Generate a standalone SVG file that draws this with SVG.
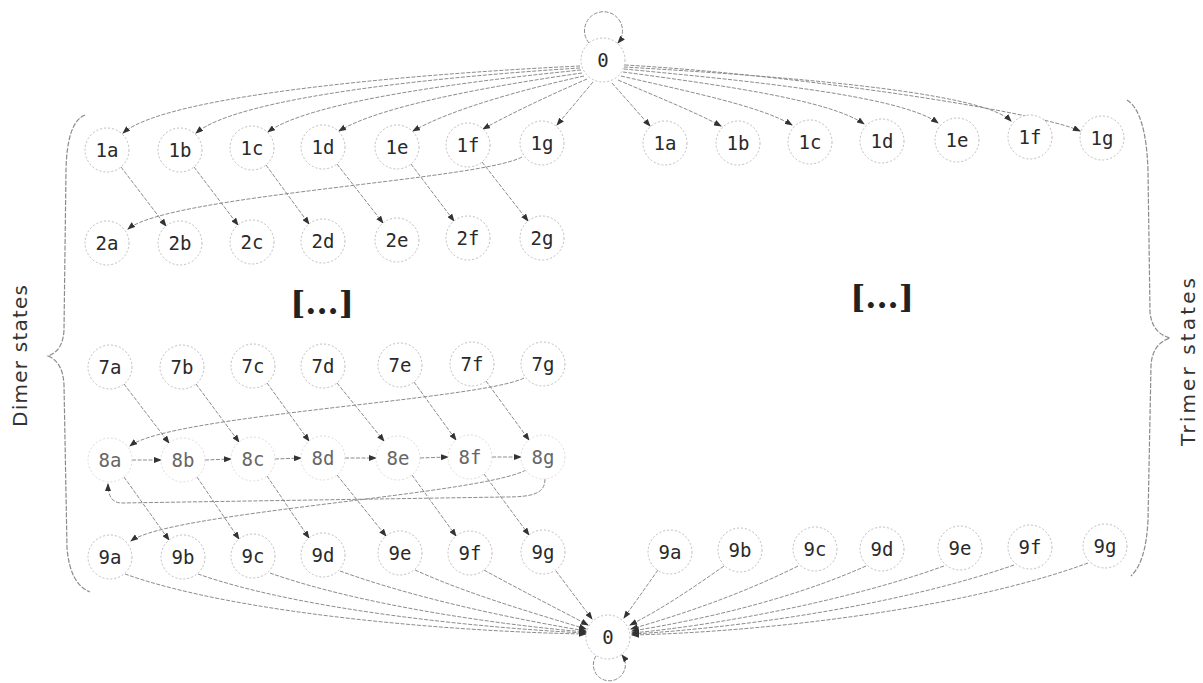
<svg xmlns="http://www.w3.org/2000/svg" width="1203" height="683" viewBox="0 0 1203 683">
<defs>
<marker id="ah" markerWidth="8" markerHeight="6" refX="7" refY="3" orient="auto" markerUnits="userSpaceOnUse">
<path d="M0,0 L8,3 L0,6 z" fill="#333"/>
</marker>
<style>
.e{fill:none;stroke:#8c8c8c;stroke-width:1;stroke-dasharray:4 1.5;marker-end:url(#ah)}
.b{fill:none;stroke:#8c8c8c;stroke-width:1.2;stroke-dasharray:5 1.5}
.n circle{fill:#fff;stroke:#bdbdbd;stroke-width:1;stroke-dasharray:2 2}
.n text{font-family:"DejaVu Sans Mono",monospace;font-size:19px;fill:#2a2a2a;text-anchor:middle;dominant-baseline:central}
.f circle{stroke:#dcdcdc}
.f text{fill:#666}
.dots{font-family:"DejaVu Serif",serif;font-weight:bold;font-size:32px;fill:#222;text-anchor:middle}
.lab{font-family:"DejaVu Sans",sans-serif;font-size:20px;fill:#333;text-anchor:middle;dominant-baseline:central}
</style>
</defs>
<rect width="1203" height="683" fill="#fff"/>

<g id="braces">
<path class="b" d="M85 115 Q67 122 66 170 L64 330 Q63 351 48 356 Q63 362 64 385 L67 548 Q70 584 90 592"/>
<path class="b" d="M1127 100 Q1146 112 1148 170 L1150 312 Q1152 333 1170 338 Q1152 344 1151 366 L1148 520 Q1146 562 1131 576"/>
</g>

<g id="connectors">
<path class="e" d="M589 43 A19 19 0 1 1 618 43"/>
<path class="e" d="M580 66 C450 72 170 92 123 133"/>
<path class="e" d="M580 68 C450 76 240 96 196 133"/>
<path class="e" d="M581 70 C470 81 310 101 268 132"/>
<path class="e" d="M582 73 C490 86 380 106 339 131"/>
<path class="e" d="M584 76 C520 90 450 110 413 131"/>
<path class="e" d="M587 79 C550 95 510 114 483 129"/>
<path class="e" d="M593 82 L557 125"/>
<path class="e" d="M612 83 L650 126"/>
<path class="e" d="M618 80 C660 98 695 112 721 126"/>
<path class="e" d="M621 76 C690 92 760 106 792 125"/>
<path class="e" d="M623 72 C720 85 830 100 864 124"/>
<path class="e" d="M624 69 C740 80 900 95 938 123"/>
<path class="e" d="M624 67 C760 75 980 90 1011 121"/>
<path class="e" d="M625 65 C800 75 1040 112 1080 131"/>
<path class="e" d="M121 167 L166 226"/>
<path class="e" d="M194 167 L238 225"/>
<path class="e" d="M266 165 L309 224"/>
<path class="e" d="M337 164 L383 223"/>
<path class="e" d="M411 164 L454 221"/>
<path class="e" d="M482 162 L528 221"/>
<path class="e" d="M522 157 C480 180 170 195 128 229"/>
<path class="e" d="M124 384 L169 443"/>
<path class="e" d="M196 384 L239 442"/>
<path class="e" d="M267 383 L309 441"/>
<path class="e" d="M337 383 L384 441"/>
<path class="e" d="M414 382 L456 440"/>
<path class="e" d="M486 381 L529 440"/>
<path class="e" d="M524 378 C480 400 170 415 130 446"/>
<path class="e" d="M132 460 L161 460"/>
<path class="e" d="M205 460 L231 459"/>
<path class="e" d="M275 459 L301 458"/>
<path class="e" d="M345 458 L376 458"/>
<path class="e" d="M420 458 L448 457"/>
<path class="e" d="M492 457 L521 457"/>
<path class="e" d="M545 479 C545 494 532 497 505 497 L122 503 Q108 503 108 484"/>
<path class="e" d="M124 477 L169 540"/>
<path class="e" d="M197 477 L239 539"/>
<path class="e" d="M267 476 L309 538"/>
<path class="e" d="M337 475 L386 536"/>
<path class="e" d="M412 475 L456 536"/>
<path class="e" d="M484 474 L529 535"/>
<path class="e" d="M526 470 C480 495 170 512 131 541"/>
<path class="e" d="M556 571 L592 619"/>
<path class="e" d="M484 570 C520 590 560 610 588 625"/>
<path class="e" d="M415 570 C470 595 540 615 586 629"/>
<path class="e" d="M340 571 C420 600 520 620 586 631"/>
<path class="e" d="M270 573 C360 605 500 625 586 632"/>
<path class="e" d="M198 574 C300 610 480 628 586 633"/>
<path class="e" d="M125 574 C240 615 460 632 586 634"/>
<path class="e" d="M658 570 L624 618"/>
<path class="e" d="M724 566 C690 590 660 610 630 625"/>
<path class="e" d="M798 566 C740 595 680 615 631 629"/>
<path class="e" d="M866 566 C790 600 700 620 632 631"/>
<path class="e" d="M944 566 C850 600 720 625 632 633"/>
<path class="e" d="M1014 565 C900 605 740 628 632 634"/>
<path class="e" d="M1088 563 C960 610 760 632 632 635"/>
<path class="e" d="M596 656 A16 16 0 1 0 622 655"/>
</g>

<g id="n0top" class="n"><circle cx="603" cy="60" r="22"/><text x="603" y="60">0</text></g>
<g id="n0bot" class="n"><circle cx="608" cy="637" r="22"/><text x="608" y="637">0</text></g>

<g id="d1a" class="n"><circle cx="107" cy="150" r="22"/><text x="107" y="150">1a</text></g>
<g id="d1b" class="n"><circle cx="180" cy="150" r="22"/><text x="180" y="150">1b</text></g>
<g id="d1c" class="n"><circle cx="252" cy="148" r="22"/><text x="252" y="148">1c</text></g>
<g id="d1d" class="n"><circle cx="323" cy="147" r="22"/><text x="323" y="147">1d</text></g>
<g id="d1e" class="n"><circle cx="397" cy="147" r="22"/><text x="397" y="147">1e</text></g>
<g id="d1f" class="n"><circle cx="468" cy="145" r="22"/><text x="468" y="145">1f</text></g>
<g id="d1g" class="n"><circle cx="542" cy="143" r="22"/><text x="542" y="143">1g</text></g>

<g id="d2a" class="n"><circle cx="107" cy="243" r="22"/><text x="107" y="243">2a</text></g>
<g id="d2b" class="n"><circle cx="180" cy="243" r="22"/><text x="180" y="243">2b</text></g>
<g id="d2c" class="n"><circle cx="252" cy="242" r="22"/><text x="252" y="242">2c</text></g>
<g id="d2d" class="n"><circle cx="323" cy="241" r="22"/><text x="323" y="241">2d</text></g>
<g id="d2e" class="n"><circle cx="397" cy="240" r="22"/><text x="397" y="240">2e</text></g>
<g id="d2f" class="n"><circle cx="468" cy="238" r="22"/><text x="468" y="238">2f</text></g>
<g id="d2g" class="n"><circle cx="542" cy="238" r="22"/><text x="542" y="238">2g</text></g>

<g id="d7a" class="n"><circle cx="110" cy="367" r="22"/><text x="110" y="367">7a</text></g>
<g id="d7b" class="n"><circle cx="182" cy="367" r="22"/><text x="182" y="367">7b</text></g>
<g id="d7c" class="n"><circle cx="253" cy="366" r="22"/><text x="253" y="366">7c</text></g>
<g id="d7d" class="n"><circle cx="323" cy="366" r="22"/><text x="323" y="366">7d</text></g>
<g id="d7e" class="n"><circle cx="400" cy="365" r="22"/><text x="400" y="365">7e</text></g>
<g id="d7f" class="n"><circle cx="472" cy="364" r="22"/><text x="472" y="364">7f</text></g>
<g id="d7g" class="n"><circle cx="543" cy="364" r="22"/><text x="543" y="364">7g</text></g>

<g id="d8a" class="n f"><circle cx="110" cy="460" r="22"/><text x="110" y="460">8a</text></g>
<g id="d8b" class="n f"><circle cx="183" cy="460" r="22"/><text x="183" y="460">8b</text></g>
<g id="d8c" class="n f"><circle cx="253" cy="459" r="22"/><text x="253" y="459">8c</text></g>
<g id="d8d" class="n f"><circle cx="323" cy="458" r="22"/><text x="323" y="458">8d</text></g>
<g id="d8e" class="n f"><circle cx="398" cy="458" r="22"/><text x="398" y="458">8e</text></g>
<g id="d8f" class="n f"><circle cx="470" cy="457" r="22"/><text x="470" y="457">8f</text></g>
<g id="d8g" class="n f"><circle cx="543" cy="457" r="22"/><text x="543" y="457">8g</text></g>

<g id="d9a" class="n"><circle cx="110" cy="557" r="22"/><text x="110" y="557">9a</text></g>
<g id="d9b" class="n"><circle cx="183" cy="557" r="22"/><text x="183" y="557">9b</text></g>
<g id="d9c" class="n"><circle cx="253" cy="556" r="22"/><text x="253" y="556">9c</text></g>
<g id="d9d" class="n"><circle cx="323" cy="555" r="22"/><text x="323" y="555">9d</text></g>
<g id="d9e" class="n"><circle cx="400" cy="553" r="22"/><text x="400" y="553">9e</text></g>
<g id="d9f" class="n"><circle cx="470" cy="553" r="22"/><text x="470" y="553">9f</text></g>
<g id="d9g" class="n"><circle cx="543" cy="552" r="22"/><text x="543" y="552">9g</text></g>

<g id="t1a" class="n"><circle cx="665" cy="143" r="22"/><text x="665" y="143">1a</text></g>
<g id="t1b" class="n"><circle cx="738" cy="143" r="22"/><text x="738" y="143">1b</text></g>
<g id="t1c" class="n"><circle cx="810" cy="142" r="22"/><text x="810" y="142">1c</text></g>
<g id="t1d" class="n"><circle cx="882" cy="141" r="22"/><text x="882" y="141">1d</text></g>
<g id="t1e" class="n"><circle cx="957" cy="140" r="22"/><text x="957" y="140">1e</text></g>
<g id="t1f" class="n"><circle cx="1030" cy="137" r="22"/><text x="1030" y="137">1f</text></g>
<g id="t1g" class="n"><circle cx="1102" cy="138" r="22"/><text x="1102" y="138">1g</text></g>

<g id="t9a" class="n"><circle cx="670" cy="552" r="22"/><text x="670" y="552">9a</text></g>
<g id="t9b" class="n"><circle cx="740" cy="550" r="22"/><text x="740" y="550">9b</text></g>
<g id="t9c" class="n"><circle cx="815" cy="549" r="22"/><text x="815" y="549">9c</text></g>
<g id="t9d" class="n"><circle cx="882" cy="549" r="22"/><text x="882" y="549">9d</text></g>
<g id="t9e" class="n"><circle cx="960" cy="548" r="22"/><text x="960" y="548">9e</text></g>
<g id="t9f" class="n"><circle cx="1030" cy="547" r="22"/><text x="1030" y="547">9f</text></g>
<g id="t9g" class="n"><circle cx="1105" cy="546" r="22"/><text x="1105" y="546">9g</text></g>

<g id="labels">
<text class="dots" x="322" y="314">[...]</text>
<text class="dots" x="882" y="308">[...]</text>
<text class="lab" transform="translate(20 356) rotate(-90)" textLength="142" lengthAdjust="spacing">Dimer states</text>
<text class="lab" transform="translate(1188 362) rotate(-90)" textLength="168" lengthAdjust="spacing">Trimer states</text>
</g>
</svg>
